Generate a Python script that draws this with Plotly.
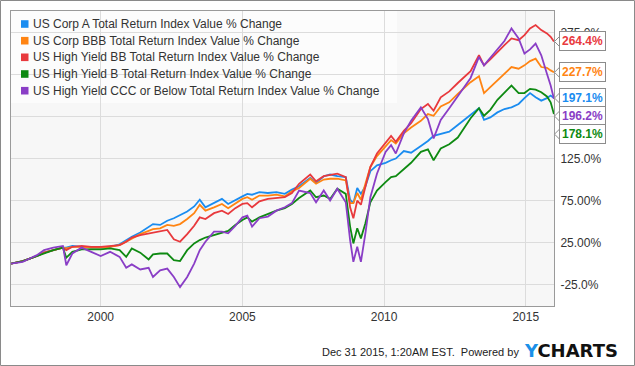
import plotly.graph_objects as go

dates = ["1996-11-01","1997-04-01","1997-07-01","1997-10-01","1998-01-01","1998-05-01","1998-09-01","1998-10-15",
         "1999-01-01","1999-05-01","1999-09-01","2000-01-01","2000-05-01","2000-09-01","2000-11-25","2001-02-05",
         "2001-05-25","2001-09-10","2001-11-05","2002-02-05","2002-05-08","2002-08-01","2002-10-20","2003-01-20",
         "2003-04-20","2003-07-01","2003-09-12","2004-01-01","2004-04-12","2004-07-01","2004-10-01","2005-01-01",
         "2005-03-05","2005-05-05","2005-08-08","2005-11-25","2006-03-15","2006-07-01","2006-10-01","2007-01-01",
         "2007-05-25","2007-08-08","2007-11-15","2008-02-05","2008-05-08","2008-08-25","2008-10-20","2008-12-01",
         "2009-01-20","2009-03-08","2009-05-05","2009-07-08","2009-10-01","2010-01-20","2010-04-01","2010-06-01",
         "2010-09-12","2010-12-15","2011-04-20","2011-07-20","2011-10-01","2012-01-01","2012-04-20","2012-08-08",
         "2013-01-20","2013-05-08","2013-07-12","2013-10-01","2014-01-01","2014-04-01","2014-07-01","2014-10-01",
         "2014-12-15","2015-02-25","2015-05-08","2015-07-20","2015-10-01","2015-11-18","2015-12-30"]

corp_a = [0,3,6,9,13,16,19,19,21,20,19,19,20,23,28,32,37,43,47,46,51,54,58,62,68,76,67,72,77,71,76,80,83,82,85,84,
          85,83,88,92,102,96,104,106,104,103,76,72,90,83,92,110,117,120,123,125,134,132,140,146,152,154,157,165,177,
          185,171,174,180,184,186,190,197,203,198,194,197,200,197.1]
corp_bbb = [0,3,6,9,13,16,19,18,20,20,19,19,20,22,26,30,35,39,41,42,46,45,47,53,60,70,63,67,71,66,72,77,79,76,81,81,
            82,80,86,90,101,95,100,101,101,99,72,72,84,76,95,115,128,139,147,143,155,162,170,178,176,187,192,202,216,
            223,203,210,218,225,234,232,236,241,244,234,233,230,227.7]
hy_bb = [0,3,6,9,13,16,19,16,20,21,20,20,21,22,26,31,34,36,37,38,40,29,26,35,45,55,53,60,63,59,66,71,72,67,74,77,
         78,79,84,95,106,98,104,105,107,103,67,54,75,70,91,115,131,143,152,145,158,167,184,190,182,198,205,215,229,
         248,236,243,252,260,268,266,272,280,284,278,274,270,264.4]
hy_b = [0,3,6,9,12,16,19,7,14,17,17,17,18,16,8,18,13,5,11,12,12,4,3,16,24,28,31,34,37,39,46,52,55,50,55,59,63,66,
        71,78,87,79,81,77,89,83,44,24,42,30,48,73,87,97,103,104,112,120,133,136,123,137,142,150,173,185,176,183,195,
        203,212,203,203,208,207,204,199,192,178.1]
hy_ccc = [0,2,6,10,16,19,21,-2,12,19,14,9,14,8,-5,-1,-7,-5,-16,-8,-6,-16,-28,-16,0,16,26,38,38,36,45,55,57,44,54,
          56,63,67,72,87,84,73,87,75,89,73,28,2,20,2,36,79,107,133,141,131,155,170,186,172,149,171,185,200,221,246,
          236,245,255,265,280,268,250,255,262,248,226,212,196.2]

series_names = ["US Corp A Total Return Index Value % Change",
                "US Corp BBB Total Return Index Value % Change",
                "US High Yield BB Total Return Index Value % Change",
                "US High Yield B Total Return Index Value % Change",
                "US High Yield CCC or Below Total Return Index Value % Change"]
series_values = [corp_a, corp_bbb, hy_bb, hy_b, hy_ccc]
colors = ["#1a8cf0", "#ff8412", "#e8393d", "#0e8a12", "#8a3ec6"]

y_ticks = [-25, 25, 75, 125, 175, 225, 275]
y_tick_labels = ["-25.0%", "25.00%", "75.00%", "125.0%", "", "", "275.0%"]
x_ticks = ["2000-01-01", "2005-01-01", "2010-01-01", "2015-01-01"]
x_tick_labels = ["2000", "2005", "2010", "2015"]

FONT = "Liberation Sans, Arial, sans-serif"
W, H = 635, 366
L, T, R, B = 11, 11, 81, 60
PW, PH = W - L - R, H - T - B


def px_x(px):
    return (px - L) / PW


def px_y(py):
    return 1 - (py - T) / PH


fig = go.Figure()
for name, vals, col in zip(series_names, series_values, colors):
    fig.add_trace(go.Scatter(x=dates, y=vals, mode="lines", name=name,
                             line=dict(color=col, width=1.8), showlegend=False))

shapes = []
annotations = []

# legend background
shapes.append(dict(type="rect", xref="paper", yref="paper", x0=0, x1=px_x(397), y0=px_y(103), y1=1,
                   fillcolor="rgba(255,255,255,0.65)", line=dict(width=0), layer="between"))
# legend entries
row_y = [24, 40.7, 57.3, 74, 90.7]
for i, (name, col) in enumerate(zip(series_names, colors)):
    cy = row_y[i]
    shapes.append(dict(type="rect", xref="paper", yref="paper", x0=px_x(21), x1=px_x(28.5),
                       y0=px_y(cy + 3.8), y1=px_y(cy - 3.8), fillcolor=col, line=dict(width=0), layer="above"))
    annotations.append(dict(xref="paper", yref="paper", x=px_x(31), y=px_y(cy), xanchor="left", yanchor="middle",
                            text=name, showarrow=False, font=dict(family=FONT, size=12, color="#333333")))

# end-value flags
order = sorted(range(len(series_values)), key=lambda k: -series_values[k][-1])
gap = 21.5
prev = None
for k in order:
    v = series_values[k][-1]
    pos = v if prev is None else min(v, prev - gap)
    prev = pos
    shapes.append(dict(type="path", xref="paper", xsizemode="pixel", xanchor=1,
                       yref="y", ysizemode="pixel", yanchor=pos,
                       path="M 0.5 0 L 6 5.5 L 6 -5.5 Z", fillcolor="white",
                       line=dict(color="#8c8c8c", width=1), layer="above"))
    annotations.append(dict(xref="paper", yref="y", x=1, y=pos, xanchor="left", yanchor="middle", xshift=5,
                            text="<b>%.1f%%</b>" % v, showarrow=False, bgcolor="white",
                            bordercolor="#8c8c8c", borderwidth=1, borderpad=2,
                            font=dict(family=FONT, size=12, color=colors[k])))

# footer
annotations.append(dict(xref="paper", yref="paper", x=px_x(521), y=px_y(352), xanchor="right", yanchor="middle",
                        text="Dec 31 2015, 1:20AM EST.  Powered by", showarrow=False,
                        font=dict(family=FONT, size=11, color="#222222")))
annotations.append(dict(xref="paper", yref="paper", x=px_x(522), y=px_y(350), xanchor="left", yanchor="middle",
                        text="<span style='color:#1b90e8'>Y</span>CHARTS", showarrow=False,
                        font=dict(family="DejaVu Sans", size=18, color="#111111", weight="bold")))

# outer border
shapes.append(dict(type="rect", xref="paper", yref="paper",
                   x0=(-L + 0.5) / PW, x1=1 + (R - 0.5) / PW,
                   y0=-(B - 0.5) / PH, y1=1 + (T - 0.5) / PH,
                   line=dict(color="#8a8a8a", width=1), fillcolor="rgba(0,0,0,0)", layer="above"))

fig.update_layout(
    width=W, height=H, autosize=False,
    margin=dict(l=L, r=R, t=T, b=B, pad=0),
    paper_bgcolor="white", plot_bgcolor="#f7f7f7",
    font=dict(family=FONT, size=12, color="#333333"),
    showlegend=False,
    shapes=shapes, annotations=annotations,
    xaxis=dict(type="date", range=["1996-11-01", "2015-12-31"], tickvals=x_ticks, ticktext=x_tick_labels,
               showgrid=True, gridcolor="#dcdcdc", gridwidth=1, zeroline=False,
               showline=True, mirror=True, linecolor="#9a9a9a", linewidth=1, ticks="",
               tickfont=dict(family=FONT, size=12, color="#333333")),
    yaxis=dict(range=[-50.5, 300.7], side="right", tickvals=y_ticks, ticktext=y_tick_labels,
               showgrid=True, gridcolor="#dcdcdc", gridwidth=1, zeroline=False,
               showline=True, mirror=True, linecolor="#9a9a9a", linewidth=1, ticks="",
               ticklabelstandoff=3,
               tickfont=dict(family=FONT, size=12, color="#333333")),
)

fig.write_html("out.html", config={"displayModeBar": False},
               post_script="document.body.style.margin='0';document.body.style.overflow='hidden';")
